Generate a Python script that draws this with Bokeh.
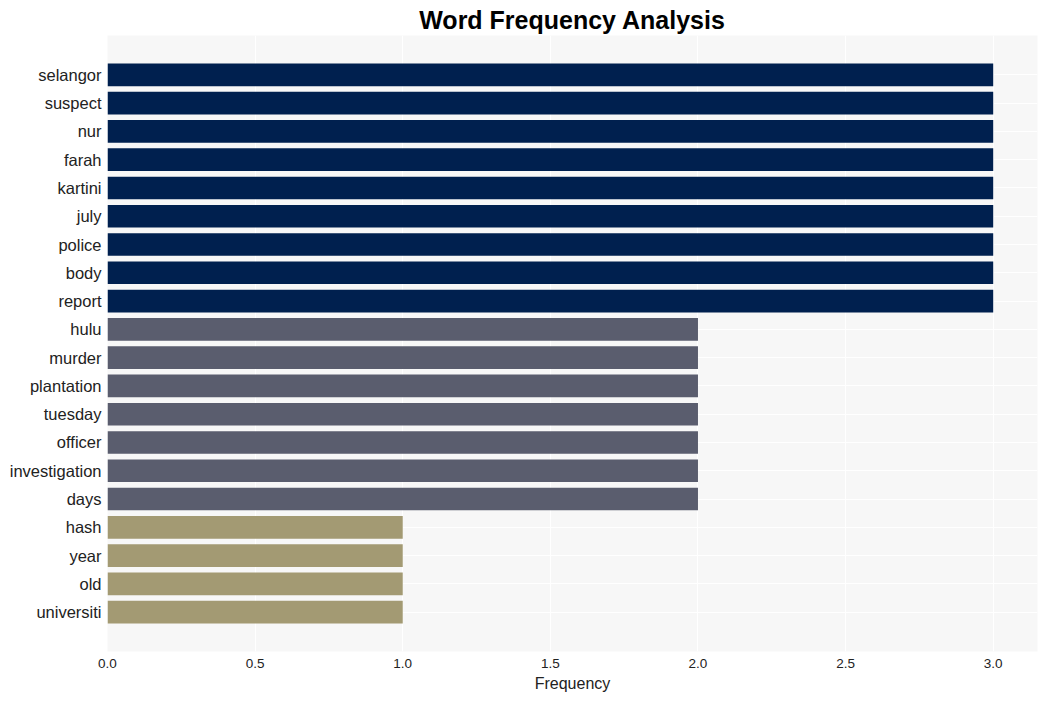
from bokeh.plotting import figure
from bokeh.models import FactorRange, Range1d, FixedTicker, NumeralTickFormatter
from bokeh.embed import file_html
from bokeh.resources import INLINE

words = ["selangor", "suspect", "nur", "farah", "kartini", "july", "police", "body", "report",
         "hulu", "murder", "plantation", "tuesday", "officer", "investigation", "days",
         "hash", "year", "old", "universiti"]
freqs = [3, 3, 3, 3, 3, 3, 3, 3, 3,
         2, 2, 2, 2, 2, 2, 2,
         1, 1, 1, 1]
color_by_freq = {3: "#00204f", 2: "#5a5d6e", 1: "#a39a73"}
colors = [color_by_freq[f] for f in freqs]
x_ticks = [0.0, 0.5, 1.0, 1.5, 2.0, 2.5, 3.0]

p = figure(width=1047, height=701, output_backend="svg", toolbar_location=None,
           y_range=FactorRange(factors=list(reversed(words)), range_padding=0.89,
                               range_padding_units="absolute"),
           x_range=Range1d(0, 3.15),
           title="Word Frequency Analysis",
           min_border_left=107, min_border_right=10, min_border_top=35, min_border_bottom=50)

p.hbar(y=words, right=freqs, left=0, height=0.8, color=colors, line_color=None)

p.title.align = "center"
p.title.text_font = "Liberation Sans"
p.title.text_font_size = "25px"
p.title.text_font_style = "bold"
p.title.text_color = "#000000"
p.title.offset = 0
p.title.standoff = 3

p.background_fill_color = "#f7f7f7"
p.border_fill_color = "white"
p.outline_line_color = None

p.xaxis.ticker = FixedTicker(ticks=x_ticks)
p.xaxis.formatter = NumeralTickFormatter(format="0.0")
p.xaxis.axis_label = "Frequency"
p.xaxis.axis_label_text_font = "Liberation Sans"
p.xaxis.axis_label_text_font_size = "16px"
p.xaxis.axis_label_text_font_style = "normal"
p.xaxis.axis_label_text_color = "#222222"
p.xaxis.axis_label_standoff = 4
p.xaxis.major_label_text_font = "Liberation Sans"
p.xaxis.major_label_text_font_size = "13.5px"
p.xaxis.major_label_text_color = "#222222"
p.xaxis.major_label_standoff = 7

p.yaxis.major_label_text_font = "Liberation Sans"
p.yaxis.major_label_text_font_size = "16.5px"
p.yaxis.major_label_text_color = "#222222"
p.yaxis.major_label_standoff = 6

for ax in (p.xaxis, p.yaxis):
    ax.axis_line_color = None
    ax.major_tick_line_color = None
    ax.minor_tick_line_color = None
    ax.major_tick_out = 0
    ax.major_tick_in = 0

p.xgrid.grid_line_color = "white"
p.xgrid.grid_line_width = 1
p.ygrid.grid_line_color = "white"
p.ygrid.grid_line_width = 1

open("out.html", "w").write(file_html(p, INLINE))
